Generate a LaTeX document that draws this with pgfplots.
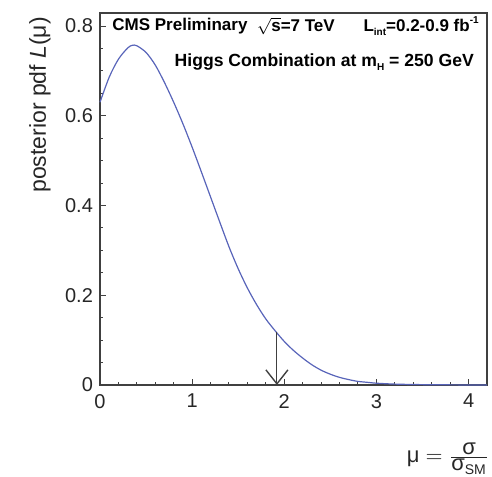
\documentclass[border=0pt]{standalone}
\usepackage{fontspec}
\setmainfont{Liberation Sans}
\usepackage{pgfplots}
\pgfplotsset{compat=1.18}
\usetikzlibrary{arrows.meta,calc}
\definecolor{curveblue}{RGB}{88,100,185}
\begin{document}
\begin{tikzpicture}
\begin{axis}[
  scale only axis,
  width=193.5pt, height=186pt,
  xmin=0, xmax=4.2, ymin=0, ymax=0.829,
  xtick={0,1,2,3,4}, ytick={0,0.2,0.4,0.6,0.8},
  yticklabels={0,0.2,0.4,0.6,0.8},
  minor x tick num=4, minor y tick num=3,
  tick align=inside,
  xtick pos=bottom, ytick pos=left,
  major tick length=3pt, minor tick length=1.5pt,
  axis line style={draw=black!75, line width=0.6pt},
  every tick/.style={black!75, line width=0.5pt},
  /pgf/number format/assume math mode=true,
  ticklabel style={font=\fontsize{10}{12}\selectfont, text=black!85},
  xticklabel style={yshift=-1pt},
  ylabel={posterior pdf \textit{L}(μ)},
  ylabel style={font=\fontsize{11.5}{13}\selectfont, text=black!85, at={(rel axis cs:-0.155,1.008)}, anchor=east},
  xlabel={μ $=$ $\frac{\mbox{\fontsize{11}{12}\selectfont σ}}{\mbox{\fontsize{11}{12}\selectfont σ}_{\mbox{\fontsize{7}{8}\selectfont SM}}}$},
  xlabel style={font=\fontsize{11}{13}\selectfont, text=black!85, at={(rel axis cs:1.012,-0.148)}, anchor=north east, inner sep=1pt},
  clip=false,
]
\addplot[curveblue, line width=0.6pt, smooth] coordinates {
(0,0.630) (0.1,0.686) (0.2,0.726) (0.3,0.751) (0.35,0.757) (0.4,0.756)
(0.5,0.741) (0.6,0.713) (0.7,0.674) (0.8,0.630) (0.9,0.582) (1.0,0.530)
(1.1,0.475) (1.2,0.419) (1.3,0.363) (1.4,0.308) (1.5,0.259) (1.6,0.216)
(1.7,0.179) (1.8,0.147) (1.9,0.121) (2.0,0.097) (2.1,0.077) (2.2,0.060)
(2.3,0.045) (2.4,0.033) (2.5,0.024) (2.6,0.017) (2.7,0.012) (2.8,0.008)
(2.9,0.006) (3.0,0.004) (3.2,0.002) (3.5,0.0008) (4.0,0.0001) (4.2,0.0)
};
\addplot[black!75, line width=0.5pt, -{Straight Barb[length=7pt,width=11pt,line width=0.7pt]}] coordinates {(1.92,0.118) (1.92,0.0)};
\node[font=\bfseries\fontsize{8.5}{10}\selectfont, anchor=west, inner sep=0pt] at (rel axis cs:0.031,0.965) {CMS Preliminary};
\node[font=\bfseries\fontsize{8.5}{10}\selectfont, anchor=west, inner sep=0pt] at (rel axis cs:0.405,0.965) {$\sqrt{\mbox{\bfseries s}}$=7 TeV};
\node[font=\bfseries\fontsize{8.5}{10}\selectfont, anchor=west, inner sep=0pt] at (rel axis cs:0.68,0.965) {L\raisebox{-0.5ex}{\fontsize{5}{6}\selectfont int}=0.2-0.9 fb\raisebox{0.9ex}{\fontsize{5}{6}\selectfont -1}};
\node[font=\bfseries\fontsize{8.8}{10}\selectfont, anchor=west, inner sep=0pt] at (rel axis cs:0.192,0.868) {Higgs Combination at m\raisebox{-0.5ex}{\fontsize{5}{6}\selectfont H} = 250 GeV};
\end{axis}
\pgfresetboundingbox
\path[use as bounding box] ($(current axis.south west)+(-50pt,-45.5pt)$) rectangle ($(current axis.north east)+(2.5pt,6.5pt)$);
\end{tikzpicture}
\end{document}
